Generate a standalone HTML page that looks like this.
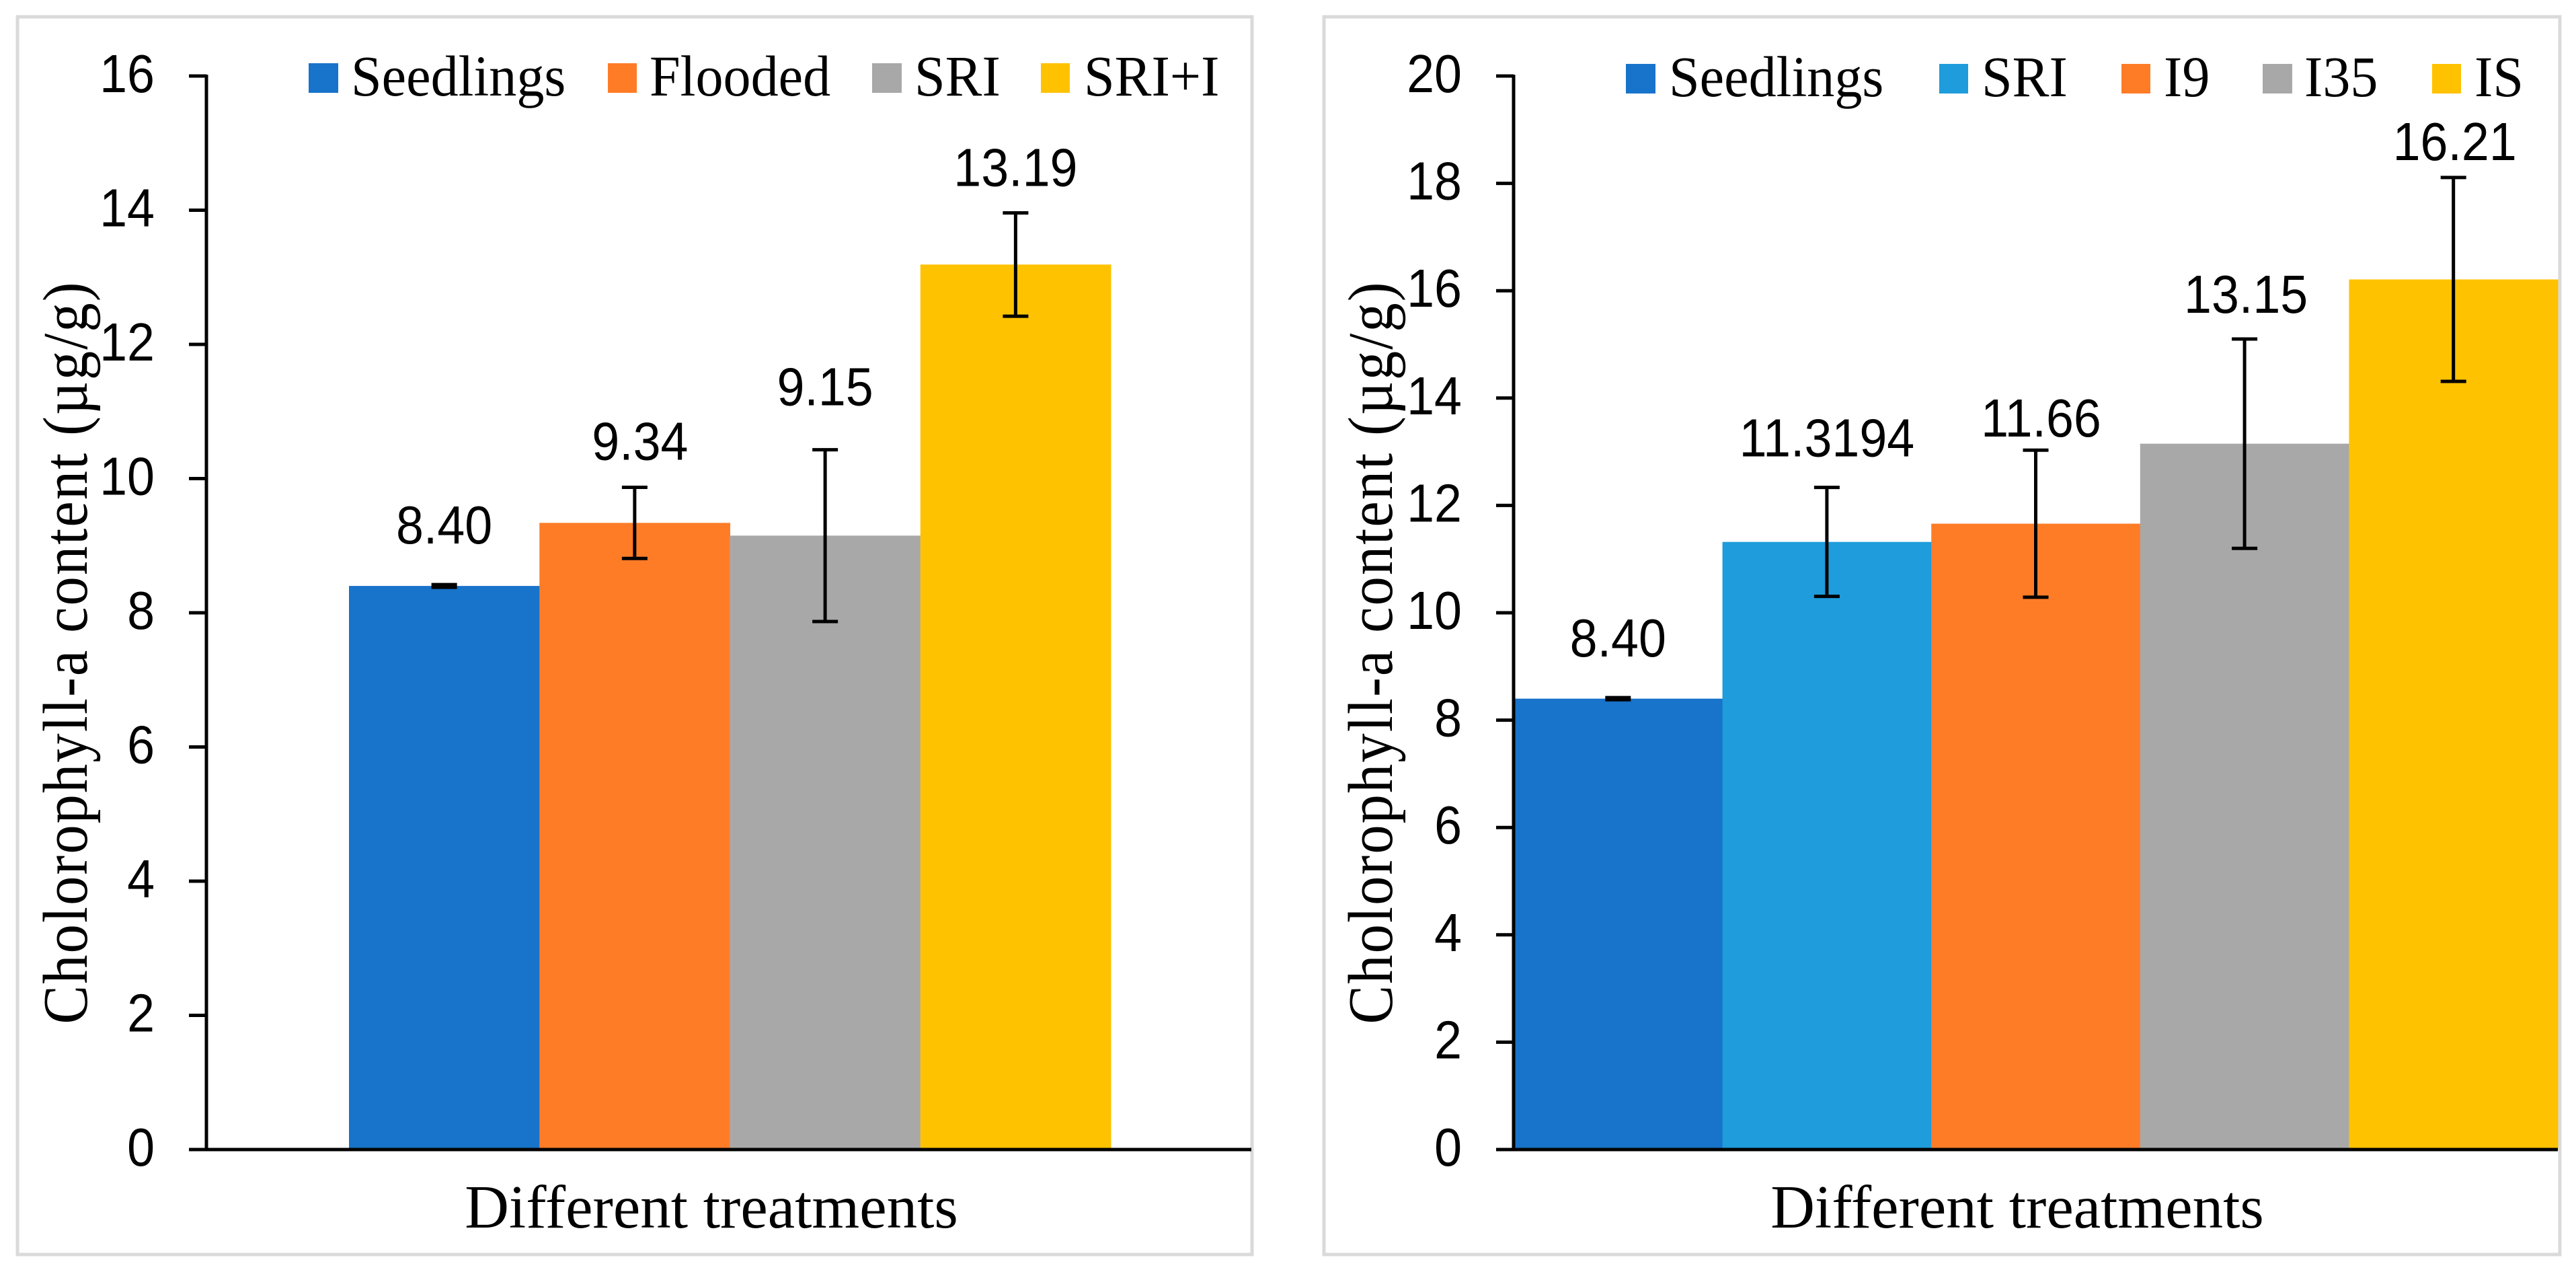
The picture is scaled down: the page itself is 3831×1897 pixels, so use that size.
<!DOCTYPE html>
<html lang="en">
<head>
<meta charset="utf-8">
<title>Chlorophyll-a content charts</title>
<style>
html,body{margin:0;padding:0;background:#fff;}
svg{display:block;}
text{fill:#000;}
.serif{font-family:"Liberation Serif",serif;}
.sans{font-family:"Liberation Sans",sans-serif;}
</style>
</head>
<body>
<svg id="figure" xmlns="http://www.w3.org/2000/svg" width="3831" height="1897" viewBox="0 0 3831 1897">
  <rect x="0" y="0" width="3831" height="1897" fill="#fff"/>

  <g id="left-panel">
    <rect x="26" y="25" width="1836" height="1840" fill="#fff" stroke="#dadada" stroke-width="5"/>
    <g id="left-marks"></g>
    <text class="serif" font-size="94" transform="translate(129 971) rotate(-90) scale(0.92 1)" text-anchor="middle" textLength="1199" lengthAdjust="spacing">Cholorophyll-a content (µg/g)</text>
    <text class="serif" font-size="91" x="1058" y="1825" text-anchor="middle">Different treatments</text>
    <g>
      <g><rect x="459" y="94" width="44" height="44" fill="#1873ca"/><text class="serif" font-size="86" transform="translate(522 142) scale(0.955 1)">Seedlings</text></g>
      <g><rect x="904" y="94" width="43" height="44" fill="#ff7c27"/><text class="serif" font-size="86" transform="translate(966 142) scale(0.955 1)">Flooded</text></g>
      <g><rect x="1297" y="94" width="44" height="44" fill="#a8a8a8"/><text class="serif" font-size="86" transform="translate(1360 142) scale(0.955 1)">SRI</text></g>
      <g><rect x="1548" y="94" width="43" height="44" fill="#ffc200"/><text class="serif" font-size="86" transform="translate(1612 142) scale(0.955 1)">SRI+I</text></g>
    </g>
  </g>

  <g id="right-panel">
    <rect x="1969" y="25" width="1838" height="1840" fill="#fff" stroke="#dadada" stroke-width="5"/>
    <g id="right-marks"></g>
    <text class="serif" font-size="94" transform="translate(2070 971) rotate(-90) scale(0.92 1)" text-anchor="middle" textLength="1199" lengthAdjust="spacing">Cholorophyll-a content (µg/g)</text>
    <text class="serif" font-size="91" x="3000" y="1825" text-anchor="middle">Different treatments</text>
    <g>
      <g><rect x="2418" y="95" width="44" height="44" fill="#1873ca"/><text class="serif" font-size="86" transform="translate(2482 143) scale(0.955 1)">Seedlings</text></g>
      <g><rect x="2884" y="95" width="43" height="44" fill="#1e9cdb"/><text class="serif" font-size="86" transform="translate(2947 143) scale(0.955 1)">SRI</text></g>
      <g><rect x="3155" y="95" width="43" height="44" fill="#ff7c27"/><text class="serif" font-size="86" transform="translate(3218 143) scale(0.955 1)">I9</text></g>
      <g><rect x="3365" y="95" width="44" height="44" fill="#a8a8a8"/><text class="serif" font-size="86" transform="translate(3427 143) scale(0.955 1)">I35</text></g>
      <g><rect x="3617" y="95" width="43" height="44" fill="#ffc200"/><text class="serif" font-size="86" transform="translate(3680 143) scale(0.955 1)">IS</text></g>
    </g>
  </g>
</svg>

<script>
// Left chart data
const leftCategories = ['Seedlings', 'Flooded', 'SRI', 'SRI+I'];
const leftValues = [8.40, 9.34, 9.15, 13.19];
const leftErrors = [0.02, 0.53, 1.28, 0.77];
const leftValueLabels = ['8.40', '9.34', '9.15', '13.19'];
const leftTicks = [0, 2, 4, 6, 8, 10, 12, 14, 16];

// Right chart data
const rightCategories = ['Seedlings', 'SRI', 'I9', 'I35', 'IS'];
const rightValues = [8.40, 11.32, 11.66, 13.15, 16.21];
const rightErrors = [0.02, 1.015, 1.37, 1.95, 1.90];
const rightValueLabels = ['8.40', '11.3194', '11.66', '13.15', '16.21'];
const rightTicks = [0, 2, 4, 6, 8, 10, 12, 14, 16, 18, 20];

const SVG_NS = 'http://www.w3.org/2000/svg';

function makeEl(parent, tag, attrs) {
  const el = document.createElementNS(SVG_NS, tag);
  for (const k in attrs) el.setAttribute(k, attrs[k]);
  parent.appendChild(el);
  return el;
}

function drawChart(cfg) {
  const g = document.getElementById(cfg.target);
  const yScale = v => cfg.y0 - (v / cfg.yMax) * (cfg.y0 - cfg.yTop);
  const barW = (cfg.groupRight - cfg.groupLeft) / cfg.categories.length;
  const xScale = i => cfg.groupLeft + i * barW;

  cfg.values.forEach((v, i) => {
    const bar = makeEl(g, 'rect', {
      x: xScale(i), y: yScale(v), width: barW + 0.5, height: cfg.y0 - yScale(v), fill: cfg.colors[i]
    });
    
    
  });

  // axes
  const yAxis = makeEl(g, 'line', { x1: cfg.axisX, x2: cfg.axisX, y1: yScale(cfg.yMax) - 2, y2: cfg.y0, stroke: '#000', 'stroke-width': 5 });
  
  
  const xAxis = makeEl(g, 'line', { x1: cfg.axisX - 26, x2: cfg.axisEnd, y1: cfg.y0, y2: cfg.y0, stroke: '#000', 'stroke-width': 5 });
  
  

  cfg.ticks.forEach(t => {
    const tick = makeEl(g, 'line', { x1: cfg.axisX - 26, x2: cfg.axisX, y1: yScale(t), y2: yScale(t), stroke: '#000', 'stroke-width': 5 });
    
    
    const label = makeEl(g, 'text', {
      transform: 'translate(' + (cfg.axisX - 77) + ' ' + (yScale(t) + 24) + ') scale(0.92 1)',
      'text-anchor': 'end', 'font-size': 80, class: 'sans'
    });
    label.textContent = String(t);
    
    
  });

  // error bars
  cfg.values.forEach((v, i) => {
    const cx = xScale(i) + barW / 2;
    const hi = yScale(v + cfg.errors[i]);
    const lo = yScale(v - cfg.errors[i]);
    const err = makeEl(g, 'path', {
      d: 'M' + (cx - 19) + ' ' + hi + 'H' + (cx + 19) + 'M' + cx + ' ' + hi + 'V' + lo + 'M' + (cx - 19) + ' ' + lo + 'H' + (cx + 19),
      fill: 'none', stroke: '#000', 'stroke-width': 5
    });
    
    

    const lbl = makeEl(g, 'text', {
      transform: 'translate(' + (cx + cfg.labelShiftX[i]) + ' ' + (hi - cfg.labelLift[i]) + ') scale(0.92 1)',
      'text-anchor': 'middle', 'font-size': 80, class: 'sans'
    });
    lbl.textContent = cfg.valueLabels[i];
    
    
  });
}

drawChart({
  target: 'left-marks',
  categories: leftCategories, values: leftValues, errors: leftErrors,
  valueLabels: leftValueLabels, ticks: leftTicks,
  colors: ['#1873ca', '#ff7c27', '#a8a8a8', '#ffc200'],
  yMax: 16, y0: 1709, yTop: 113,
  axisX: 307, axisEnd: 1861, groupLeft: 519, groupRight: 1652,
  labelLift: [61, 41, 66, 40], labelShiftX: [0, 8, 0, 0]
});

drawChart({
  target: 'right-marks',
  categories: rightCategories, values: rightValues, errors: rightErrors,
  valueLabels: rightValueLabels, ticks: rightTicks,
  colors: ['#1873ca', '#1e9cdb', '#ff7c27', '#a8a8a8', '#ffc200'],
  yMax: 20, y0: 1709, yTop: 113,
  axisX: 2251, axisEnd: 3804, groupLeft: 2251, groupRight: 3804,
  labelLift: [61, 46, 20, 39, 26], labelShiftX: [0, 0, 8, 2, 2]
});
</script>
</body>
</html>
